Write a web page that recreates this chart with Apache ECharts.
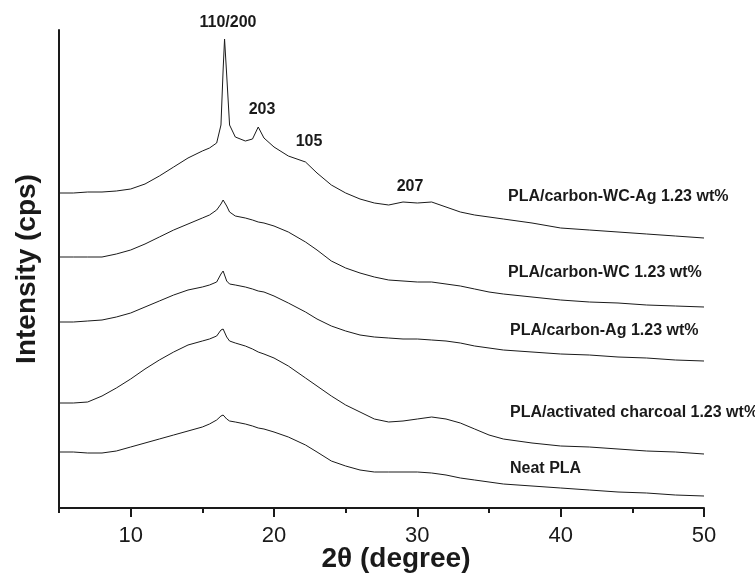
<!DOCTYPE html>
<html>
<head>
<meta charset="utf-8">
<script src="https://cdn.jsdelivr.net/npm/echarts@6/dist/echarts.min.js"></script>
<style>
  html, body { margin: 0; padding: 0; background: #fff; }
  #chart { width: 755px; height: 577px; }
</style>
</head>
<body>
<div id="chart"></div>
<script>
// 2theta positions (degree)
var angle = [5, 6, 7, 8, 9, 10, 11, 12, 13, 14, 15, 15.5, 16, 16.3, 16.45, 16.55, 16.7, 16.9, 17.3, 18, 18.5, 18.9, 19.3, 20, 21, 22.2, 23, 24, 25, 26, 27, 28, 29, 30, 31, 32, 33, 34, 35, 36, 38, 40, 42, 44, 46, 48, 50];

// intensities (arbitrary, stacked offsets included)
var wcAg = [315, 315, 316, 316, 317, 319, 324, 332, 341, 350, 357, 360, 365, 383, 438, 469, 433, 383, 371, 367, 369, 381, 370, 361, 352, 346, 335, 323, 315, 309, 305, 303, 306, 305, 306, 301, 296, 293, 291, 289, 285, 280, 278, 276, 274, 272, 270];
var wc = [251, 251, 251, 251, 254, 258, 264, 271, 278, 284, 290, 293, 298, 304, 308, 307, 302, 296, 292, 290, 288, 286, 285, 282, 276, 266, 258, 247, 240, 235, 231, 228, 227, 226, 226, 224, 222, 219, 216, 214, 211, 208, 206, 205, 203, 202, 201];
var ag = [186, 186, 187, 188, 191, 195, 201, 207, 213, 218, 221, 223, 226, 234, 237, 233, 227, 224, 223, 221, 219, 217, 216, 212, 205, 196, 189, 182, 177, 173, 171, 170, 169, 169, 168, 167, 165, 162, 160, 158, 156, 154, 153, 151, 150, 148, 147];
var charcoal = [105, 105, 106, 112, 120, 129, 139, 148, 156, 163, 167, 169, 172, 178, 179, 177, 171, 167, 165, 162, 159, 156, 154, 150, 142, 130, 122, 112, 103, 96, 89, 86, 87, 89, 91, 89, 85, 79, 73, 69, 65, 62, 61, 59, 57, 56, 54];
var neat = [56, 56, 55, 55, 57, 61, 65, 69, 73, 77, 81, 84, 88, 92, 93, 92, 89, 87, 86, 84, 82, 80, 79, 76, 71, 63, 56, 47, 42, 38, 36, 36, 36, 36, 35, 33, 30, 28, 26, 24, 22, 20, 18, 16, 15, 13, 12];

var seriesNames = ["PLA/carbon-WC-Ag 1.23 wt%", "PLA/carbon-WC 1.23 wt%", "PLA/carbon-Ag 1.23 wt%", "PLA/activated charcoal 1.23 wt%", "Neat PLA"];
var majorTicks = [10, 20, 30, 40, 50];
var minorTicks = [5, 15, 25, 35, 45];

var FONT = "Liberation Sans, Arial, sans-serif";

function pairs(ys) {
    var out = [];
    for (var i = 0; i < angle.length; i++) {
        out.push([angle[i], ys[i]]);
    }
    return out;
}

var chart = echarts.init(document.getElementById("chart"));

var allData = [wcAg, wc, ag, charcoal, neat];
var series = [];
for (var i = 0; i < allData.length; i++) {
    series.push({
        name: seriesNames[i],
        type: "line",
        xAxisIndex: 0,
        data: pairs(allData[i]),
        showSymbol: false,
        lineStyle: { color: "#1a1a1a", width: 1 },
        animation: false
    });
}

// text labels beside the curves (legend names) and peak indices
var texts = [
    { t: "110/200", x: 228, y: 23, a: "center" },
    { t: "203", x: 262, y: 110, a: "center" },
    { t: "105", x: 309, y: 142, a: "center" },
    { t: "207", x: 410, y: 187, a: "center" },
    { t: seriesNames[0], x: 508, y: 197, a: "left" },
    { t: seriesNames[1], x: 508, y: 273, a: "left" },
    { t: seriesNames[2], x: 510, y: 331, a: "left" },
    { t: seriesNames[3], x: 510, y: 413, a: "left" },
    { t: seriesNames[4], x: 510, y: 469, a: "left" }
];
var graphics = texts.map(function (d) {
    return {
        type: "text",
        x: d.x,
        y: d.y,
        style: {
            text: d.t,
            fill: "#1a1a1a",
            font: "bold 16px " + FONT,
            textAlign: d.a,
            textVerticalAlign: "middle"
        }
    };
});
graphics.push({
    type: "text",
    x: 396,
    y: 559,
    style: {
        text: "2θ (degree)",
        fill: "#1a1a1a",
        font: "bold 28px " + FONT,
        textAlign: "center",
        textVerticalAlign: "middle"
    }
});

var option = {
    backgroundColor: "#fff",
    animation: false,
    grid: { left: 59, right: 51, top: 30, bottom: 69, containLabel: false, outerBoundsMode: "none" },
    xAxis: [{
        type: "value",
        min: 5,
        max: 50,
        axisLine: { show: true, lineStyle: { color: "#1a1a1a", width: 2 } },
        axisTick: { show: true, customValues: majorTicks, length: 9, lineStyle: { color: "#1a1a1a", width: 2 } },
        axisLabel: { customValues: majorTicks, color: "#1a1a1a", fontSize: 22, fontFamily: FONT, margin: 17 },
        splitLine: { show: false }
    }, {
        type: "value",
        min: 5,
        max: 50,
        position: "bottom",
        axisLine: { show: false },
        axisTick: { show: true, customValues: minorTicks, length: 5, lineStyle: { color: "#1a1a1a", width: 2 } },
        axisLabel: { show: false },
        splitLine: { show: false }
    }],
    yAxis: {
        type: "value",
        min: 0,
        max: 478,
        name: "Intensity (cps)",
        nameLocation: "middle",
        nameGap: 18,
        nameTextStyle: { color: "#1a1a1a", fontSize: 28, fontWeight: "bold", fontFamily: FONT },
        axisLine: { show: true, lineStyle: { color: "#1a1a1a", width: 2 } },
        axisTick: { show: false },
        axisLabel: { show: false },
        splitLine: { show: false }
    },
    graphic: graphics,
    series: series
};

chart.setOption(option);
</script>
</body>
</html>
